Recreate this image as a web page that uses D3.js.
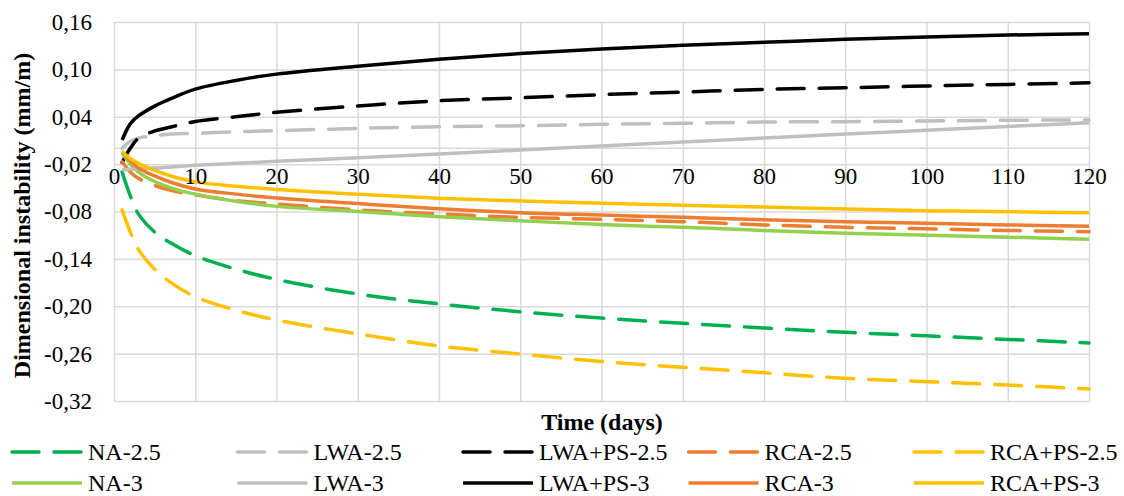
<!DOCTYPE html>
<html>
<head>
<meta charset="utf-8">
<script src="https://cdn.jsdelivr.net/npm/d3@7/dist/d3.min.js"></script>
<style>
  html, body { margin: 0; padding: 0; background: #fff; }
  svg { display: block; }
  svg text { font-family: "Liberation Serif", "LiberationSerif", Tinos, "Times New Roman", Times, "DejaVu Serif", serif !important; fill: #000; }
</style>
</head>
<body>
<svg id="chart" width="1124" height="496"></svg>
<script>
// Age of the specimens (days)
const days = [1, 2, 3, 5, 7, 10, 15, 20, 30, 40, 50, 60, 70, 80, 90, 100, 110, 120];

// Dimensional instability (mm/m) per mix
const na25    = [-0.030, -0.060, -0.083, -0.106, -0.120, -0.136, -0.153, -0.166, -0.1845, -0.197, -0.207, -0.215, -0.2216, -0.2275, -0.233, -0.2375, -0.242, -0.2465];
const lwa25   = [0.000, 0.009, 0.013, 0.016, 0.018, 0.019, 0.021, 0.0223, 0.0253, 0.0274, 0.0286, 0.0304, 0.0317, 0.0333, 0.0338, 0.0346, 0.0355, 0.036];
const lwaps25 = [-0.018, 0.000, 0.0127, 0.022, 0.027, 0.034, 0.040, 0.0456, 0.0536, 0.0603, 0.064, 0.068, 0.0713, 0.0747, 0.0767, 0.079, 0.081, 0.083];
const rca25   = [-0.017, -0.030, -0.038, -0.047, -0.053, -0.059, -0.066, -0.0705, -0.078, -0.083, -0.0874, -0.090, -0.093, -0.097, -0.100, -0.102, -0.104, -0.1055];
const rcaps25 = [-0.078, -0.106, -0.128, -0.153, -0.170, -0.188, -0.205, -0.2175, -0.235, -0.2504, -0.2605, -0.270, -0.2774, -0.2842, -0.2913, -0.2955, -0.2998, -0.3048];
const na3     = [-0.006, -0.020, -0.030, -0.042, -0.050, -0.058, -0.067, -0.0735, -0.080, -0.0866, -0.0917, -0.0965, -0.100, -0.104, -0.1075, -0.110, -0.1125, -0.115];
const lwa3    = [-0.027, -0.0265, -0.026, -0.025, -0.0235, -0.0215, -0.019, -0.0165, -0.012, -0.0072, -0.0022, 0.0029, 0.008, 0.0132, 0.018, 0.023, 0.0278, 0.0324];
const lwaps3  = [0.0105, 0.031, 0.041, 0.0535, 0.063, 0.075, 0.086, 0.094, 0.104, 0.1127, 0.120, 0.1258, 0.1304, 0.1342, 0.138, 0.141, 0.1435, 0.145];
const rca3    = [-0.004, -0.016, -0.025, -0.035, -0.043, -0.0515, -0.058, -0.063, -0.070, -0.0765, -0.0815, -0.0845, -0.0874, -0.0905, -0.093, -0.095, -0.097, -0.0988];
const rcaps3  = [-0.004, -0.013, -0.019, -0.028, -0.035, -0.0425, -0.048, -0.052, -0.0583, -0.0633, -0.0667, -0.0697, -0.0722, -0.0744, -0.0769, -0.079, -0.0803, -0.0815];

const seriesNames  = ["NA-2.5", "LWA-2.5", "LWA+PS-2.5", "RCA-2.5", "RCA+PS-2.5", "NA-3", "LWA-3", "LWA+PS-3", "RCA-3", "RCA+PS-3"];
const seriesValues = [na25, lwa25, lwaps25, rca25, rcaps25, na3, lwa3, lwaps3, rca3, rcaps3];
const seriesColors = ["#00B050", "#BFBFBF", "#000000", "#ED7D31", "#FFC000", "#92D050", "#BFBFBF", "#000000", "#ED7D31", "#FFC000"];
const seriesDashed = [true, true, true, true, true, false, false, false, false, false];

// Axis ticks
const xTicks = [0, 10, 20, 30, 40, 50, 60, 70, 80, 90, 100, 110, 120];
const yTicks = [0.16, 0.10, 0.04, -0.02, -0.08, -0.14, -0.20, -0.26, -0.32];
const yTickLabels = ["0,16", "0,10", "0,04", "-0,02", "-0,08", "-0,14", "-0,20", "-0,26", "-0,32"];

const xTitle = "Time (days)";
const yTitle = "Dimensional instability (mm/m)";

const serif = '"Liberation Serif", "LiberationSerif", Tinos, "Times New Roman", Times, "DejaVu Serif", serif';

const svg = d3.select("#chart");
const plot = { left: 114, right: 1089, top: 22, bottom: 401 };

const x = d3.scaleLinear().domain([0, 120]).range([plot.left, plot.right]);
const y = d3.scaleLinear().domain([-0.32, 0.16]).range([plot.bottom, plot.top]);

const gridColor = "#D9D9D9";

// vertical gridlines
svg.append("g")
  .attr("transform", `translate(0,${plot.bottom})`)
  .call(d3.axisBottom(x).tickValues(xTicks).tickSize(-(plot.bottom - plot.top)).tickFormat(""))
  .call(g => g.select(".domain").remove())
  .call(g => g.selectAll("line").attr("stroke", gridColor).attr("stroke-width", 1.5));

// horizontal gridlines
svg.append("g")
  .attr("transform", `translate(${plot.left},0)`)
  .call(d3.axisLeft(y).tickValues(yTicks).tickSize(-(plot.right - plot.left)).tickFormat(""))
  .call(g => g.select(".domain").remove())
  .call(g => g.selectAll("line").attr("stroke", gridColor).attr("stroke-width", 1.5));

// horizontal axis line crossing at zero
svg.append("line")
  .attr("x1", x(0)).attr("x2", x(120))
  .attr("y1", y(0)).attr("y2", y(0))
  .attr("stroke", gridColor).attr("stroke-width", 1.5);

// series lines
const line = d3.line()
  .x(d => x(d[0]))
  .y(d => y(d[1]))
  .curve(d3.curveCatmullRom.alpha(0.5));

seriesValues.forEach((vals, i) => {
  svg.append("path")
    .datum(days.map((d, j) => [d, vals[j]]))
    .attr("d", line)
    .attr("fill", "none")
    .attr("stroke", seriesColors[i])
    .attr("stroke-width", 3.5)
    .attr("stroke-linecap", seriesDashed[i] ? "round" : "butt")
    .attr("stroke-dasharray", seriesDashed[i] ? "27,15" : null);
});

// x tick labels, placed below the zero line
svg.append("g")
  .attr("transform", `translate(0,${y(0)})`)
  .call(d3.axisBottom(x).tickValues(xTicks).tickSize(0).tickPadding(19).tickFormat(d3.format("d")))
  .call(g => g.select(".domain").remove())
  .call(g => g.attr("font-family", serif).attr("font-size", 23))
  .call(g => g.selectAll("text").attr("fill", "#000"));

// y tick labels
svg.append("g")
  .attr("transform", `translate(${plot.left},0)`)
  .call(d3.axisLeft(y).tickValues(yTicks).tickSize(0).tickPadding(22)
    .tickFormat((d, i) => yTickLabels[i]))
  .call(g => g.select(".domain").remove())
  .call(g => g.attr("font-family", serif).attr("font-size", 23))
  .call(g => g.selectAll("text").attr("fill", "#000"));

// axis titles
svg.append("text")
  .attr("x", (plot.left + plot.right) / 2 + 0.5)
  .attr("y", 430)
  .attr("text-anchor", "middle")
  .attr("font-family", serif)
  .attr("font-size", 24).attr("font-weight", "bold")
  .text(xTitle);

svg.append("text")
  .attr("transform", `translate(30,${(plot.top + plot.bottom) / 2 + 4}) rotate(-90)`)
  .attr("text-anchor", "middle")
  .attr("font-family", serif)
  .attr("font-size", 24).attr("font-weight", "bold")
  .text(yTitle);

// legend: two rows of five
const legend = svg.append("g").attr("font-family", serif).attr("font-size", 24);
seriesNames.forEach((name, i) => {
  const col = i % 5, row = Math.floor(i / 5);
  const lx = 12 + col * 225.5;
  const ly = row === 0 ? 452 : 483;
  const g = legend.append("g").attr("transform", `translate(${lx},${ly})`);
  g.append("line")
    .attr("x1", 0).attr("x2", 70).attr("y1", 0).attr("y2", 0)
    .attr("stroke", seriesColors[i]).attr("stroke-width", 3.5)
    .attr("stroke-linecap", seriesDashed[i] ? "round" : "butt")
    .attr("stroke-dasharray", seriesDashed[i] ? "27,15" : null);
  g.append("text")
    .attr("x", 76).attr("y", 0).attr("dy", "0.33em")
    .text(name);
});
</script>
</body>
</html>
